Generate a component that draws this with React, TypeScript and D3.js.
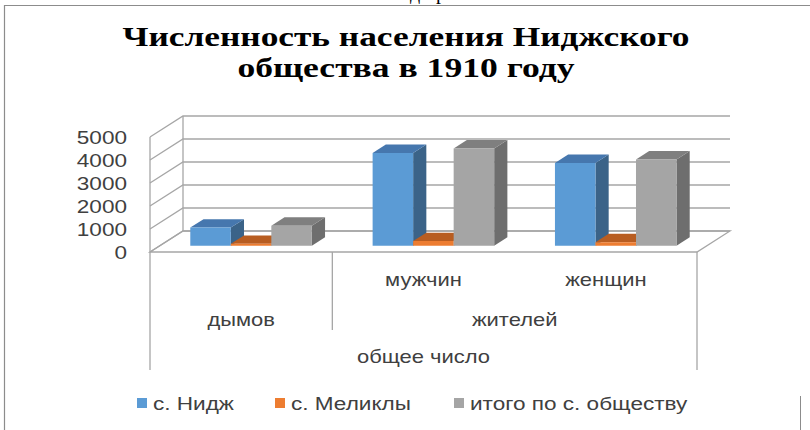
import React from 'react';
import * as d3 from 'd3';

const titleLines = ['Численность населения Ниджского', 'общества  в 1910 году'];
const leafLabels = ['дымов', 'мужчин', 'женщин'];
const midLabels = [
  { label: 'дымов', from: 0, to: 1 },
  { label: 'жителей', from: 1, to: 3 },
];
const topLabel = 'общее число';
const seriesNames = ['с. Нидж', 'с. Меликлы', 'итого по с. обществу'];
const nij = [790, 4030, 3600];
const melikly = [80, 200, 150];
const total = [870, 4230, 3750];
const yTicks = [0, 1000, 2000, 3000, 4000, 5000];

const seriesValues = [nij, melikly, total];
const colors = [
  { front: '#5B9BD5', top: '#4677AE', side: '#3B6388' },
  { front: '#ED7D31', top: '#B85D21', side: '#9E4F1B' },
  { front: '#A5A5A5', top: '#7F7F7F', side: '#6E6E6E' },
];

const SX = 1.22; // the picture is stretched sideways
const sans = '"Liberation Sans", Arial, sans-serif';
const serif = '"Liberation Serif", "Times New Roman", "DejaVu Serif", serif';
const grid = '#A6A6A6';
const titleWidths = [567, 337];

// plot geometry (front plane of the floor, depth offset)
const x0 = 150;
const x1 = 697;
const yBase = 252;
const DX = 33;
const DY = -21;
const D0 = 0.3;
const D1 = 0.7;

const App = () => {
  const x = d3.scaleBand<string>().domain(leafLabels).range([x0, x1]).padding(0);
  const xs = d3.scaleBand<string>().domain(seriesNames).range([0, x.bandwidth()]).paddingInner(0).paddingOuter(0.75);
  const h = d3.scaleLinear().domain([0, 5000]).range([0, 115]);

  const P = (px: number, v: number, d: number): [number, number] => [px + d * DX, yBase - h(v) + d * DY];
  const pt = (p: [number, number]) => `${p[0]},${p[1]}`;
  const poly = (pts: [number, number][]) => pts.map(pt).join(' ');

  const step = x.step();
  const bars: React.ReactNode[] = [];
  leafLabels.forEach((cat, ci) => {
    seriesNames.forEach((s, si) => {
      const v = seriesValues[si][ci];
      const l = (x(cat) as number) + (xs(s) as number);
      const r = l + xs.bandwidth();
      const c = colors[si];
      const fBL = P(l, 0, D0), fBR = P(r, 0, D0), fTL = P(l, v, D0), fTR = P(r, v, D0);
      const bTL = P(l, v, D1), bTR = P(r, v, D1), bBR = P(r, 0, D1);
      bars.push(
        <g key={`${ci}-${si}`}>
          <polygon points={poly([fBR, bBR, bTR, fTR])} fill={c.side} />
          <polygon points={poly([fTL, fTR, bTR, bTL])} fill={c.top} />
          <polygon points={poly([fBL, fBR, fTR, fTL])} fill={c.front} />
        </g>
      );
    });
  });

  const stretched = (tx: number, ty: number, txt: string, anchor: string, size: number, extra: any = {}) => (
    <text
      transform={`translate(${tx},${ty}) scale(${SX},1)`}
      textAnchor={anchor}
      dominantBaseline="central"
      fontFamily={sans}
      fontSize={size}
      fill="#404040"
      {...extra}
    >
      {txt}
    </text>
  );

  const legendX = [137, 275, 454];

  return (
    <div style={{ position: 'fixed', left: 0, top: 0 }}>
      <svg width={810} height={430} style={{ display: 'block', background: '#fff' }}>
        {/* clipped text from above */}
        <text x={410} y={-1} fontFamily={serif} fontSize={20}>д</text>
        <text x={436} y={-1} fontFamily={serif} fontSize={20}>р</text>
        <path d="M4.5,430 V5.5 H810" fill="none" stroke="#8C8C8C" strokeWidth={1.2} />
        <line x1={800.5} x2={800.5} y1={396} y2={430} stroke="#8C8C8C" strokeWidth={1} />

        {titleLines.map((t, i) => (
          <text
            key={i}
            x={406 - titleWidths[i] / 2}
            y={46 + i * 31}
            textLength={titleWidths[i]}
            lengthAdjust="spacingAndGlyphs"
            fontFamily={serif}
            fontWeight="bold"
            fontSize={28}
            fill="#000"
          >
            {t}
          </text>
        ))}

        {/* walls */}
        <polygon points={poly([P(x0, 0, 0), P(x0, 0, 1), P(x1, 0, 1), P(x1, 0, 0)])} fill="#fff" stroke={grid} strokeWidth={1.3} />
        {yTicks.map(t => (
          <polyline key={t} points={poly([P(x0, t, 0), P(x0, t, 1), P(x1, t, 1)])} fill="none" stroke={grid} strokeWidth={1.3} />
        ))}
        <line x1={P(x0, 0, 0)[0]} y1={P(x0, 0, 0)[1]} x2={P(x0, 5000, 0)[0]} y2={P(x0, 5000, 0)[1]} stroke={grid} strokeWidth={1.3} />
        <line x1={P(x0, 0, 1)[0]} y1={P(x0, 0, 1)[1]} x2={P(x0, 5000, 1)[0]} y2={P(x0, 5000, 1)[1]} stroke={grid} strokeWidth={1.3} />

        {bars}

        {/* y labels */}
        {yTicks.map(t => stretched(127, P(x0, t, 0)[1], String(t), 'end', 18.5, { key: `y${t}` }))}

        {/* category axis */}
        <line x1={x0} x2={x0} y1={yBase} y2={370} stroke={grid} strokeWidth={1.3} />
        <line x1={x1} x2={x1} y1={yBase} y2={370} stroke={grid} strokeWidth={1.3} />
        <line x1={x0 + step} x2={x0 + step} y1={yBase} y2={330} stroke={grid} strokeWidth={1.3} />
        {leafLabels.slice(1).map(c => stretched((x(c) as number) + step / 2, 280, c, 'middle', 18, { key: `l${c}` }))}
        {midLabels.map(m => stretched(x0 + ((m.from + m.to) / 2) * step, 320, m.label, 'middle', 18, { key: `m${m.label}` }))}
        {stretched((x0 + x1) / 2, 357, topLabel, 'middle', 18)}

        {/* legend */}
        {seriesNames.map((s, i) => (
          <g key={s}>
            <rect x={legendX[i]} y={398} width={10} height={10} fill={colors[i].front} />
            {stretched(legendX[i] + 16, 403, s, 'start', 18.5)}
          </g>
        ))}
      </svg>
    </div>
  );
};

export default App;
